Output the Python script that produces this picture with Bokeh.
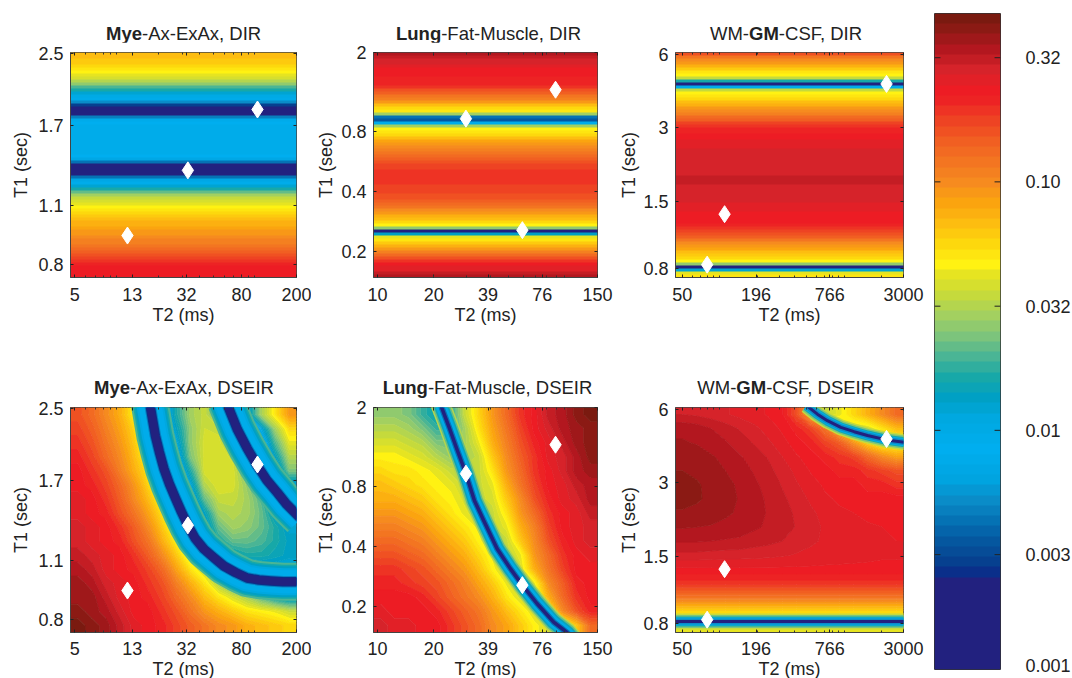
import numpy as np
from bokeh.plotting import figure
from bokeh.layouts import row, column
from bokeh.models import FixedTicker, Range1d, LinearAxis, LinearColorMapper, Div
from bokeh.embed import file_html
from bokeh.resources import INLINE

FONT = "Liberation Sans"
TXT = "#222222"

# colour bar: 64 bands, anchors (band, colour)
band_anchors = [(0,"#22217f"),(8,"#22217f"),(9,"#0a2f8a"),(10,"#06408f"),(12,"#05579f"),(14,"#0572b4"),
 (16,"#0a8cc8"),(18,"#00a4e0"),(21,"#00aeef"),(24,"#00a8e0"),(26,"#00a0c4"),(28,"#17a8a8"),(30,"#4ab595"),
 (32,"#7cc47c"),(34,"#a3d060"),(36,"#c5da3c"),(38,"#e6e421"),(39,"#fff212"),(41,"#fdd80d"),(43,"#fdbd10"),
 (45,"#fba40f"),(47,"#f68b1f"),(49,"#f37521"),(51,"#f15f22"),(53,"#ee4323"),(55,"#ed2324"),(56,"#ed1c24"),
 (58,"#d6232a"),(60,"#b3171f"),(62,"#8b1a14"),(63,"#7a1a10")]
bar_ticks = [0.316, 0.1, 0.0316, 0.01, 0.00316]
bar_label_pos = [0.316, 0.1, 0.0316, 0.01, 0.00316, 0.00113]
bar_labels = ["0.32", "0.10", "0.032", "0.01", "0.003", "0.001"]
bar_range = (0.00109, 0.476)
bar_levels = list(range(64))

# axes
mye_x = (4.65, 200); mye_y = (0.744, 2.52)
lung_x = (9.52, 150); lung_y = (0.148, 2.0)
wm_x = (44.2, 3000); wm_y = (0.733, 6.09)
mye_xt = [5, 13, 32, 80, 200]; mye_yt = [0.8, 1.1, 1.7, 2.5]
lung_xt = [10, 20, 39, 76, 150]; lung_yt = [0.2, 0.4, 0.8, 2]
wm_xt = [50, 196, 766, 3000]; wm_yt = [0.8, 1.5, 3, 6]
mye_minor = [6,7,8,9,10,20,30,40,50,60,70,80,90,100]
lung_minor = [20,30,40,50,60,70,80,90,100]
wm_minor = [60,70,80,90,100,200,300,400,500,600,700,800,900,1000,2000]

# tissue points (T2 ms, T1 s)
mye_pts_t2 = [104.5, 32.8, 12.0]; mye_pts_t1 = [1.85, 1.33, 0.934]
lung_pts_t2 = [29.7, 59.5, 89.5]; lung_pts_t1 = [0.93, 0.256, 1.30]
wm_pts_t2 = [2192, 109.6, 79.4]; wm_pts_t1 = [4.53, 1.33, 0.827]

# DIR: colour band per T1 row, top to bottom
mye_dir = [43,43,42,42,41,40,39,38,37,35,33,30,28,25,23,20,16,10,3,2,6,15,20,21,22,22,22,22,22,22,22,22,22,22,21,19,14,6,2,2,6,14,19,22,25,28,31,34,36,37,38,39,40,41,42,43,44,44,45,46,46,47,48,48,49,50,51,52,53,54,55,56,56,56,56]
lung_dir = [60,59,58,58,57,56,56,56,55,55,55,54,52,51,49,48,46,43,41,40,34,14,12,22,34,39,40,41,43,45,46,47,48,49,50,51,52,53,53,54,54,54,54,54,53,53,53,52,52,51,50,49,47,46,44,43,41,39,33,8,26,38,40,42,44,46,48,50,52,54,56,57,57,59,60]
wm_dir = [52,49,47,46,44,42,40,39,36,28,8,20,36,39,40,41,43,44,46,47,48,50,51,53,54,55,55,56,56,57,57,57,58,58,58,58,58,58,58,58,58,59,59,59,58,58,58,58,58,58,57,57,57,56,56,56,56,55,54,53,52,51,49,47,46,45,43,42,41,39,33,5,25,38,40]

# DSEIR: colour band on a coarse grid, top row first
mye_dseir = [
 [52,50,47,44,39,26,20,28,34,36,30,20,24,34,40,46],
 [53,51,48,45,41,32,20,26,33,36.5,36,26,18,24,34,41],
 [54,52,49,46,42,36,22,24,33,37,37,32,18,20,30,38],
 [55,53,50,47,43,38,26,22,32,37,37.5,36,24,18,26,35],
 [56,54,52,48,44,40,32,20,28,37,37.5,37,30,18,22,32],
 [56,55,53,50,46,41,36,22,24,35,37.5,37,33,24,18,24],
 [57,56,54,51,47,43,38,28,22,31,36,36,34,30,22,16],
 [57,56,55,52,49,45,40,34,22,26,34,35,34,31,25,18],
 [58,57,56,54,51,47,42,36,26,24,31,34,33,31,28,25],
 [58,57,56,55,52,49,44,39,30,24,28,31,31,30,28,26],
 [59,58,57,56,54,51,47,42,36,28,24,26,28,28,27,26],
 [60,59,57,56,55,53,50,45,40,36,28,22,23,24,24,24],
 [61,60,58,57,56,54,52,48,44,40,34,28,22,16,14,14],
 [61,61,59,57,56,55,53,50,47,43,40,37,34,30,26,24],
 [62,61,60,58,56,56,54,52,49,46,44,42,40,39,38,36],
 [63,62,61,59,57,56,55,53,51,49,47,46,44,43,42,41]]
lung_dseir = [
 [33,33,32,29,27,28,36,41,46,50,54,56,59,60,62,63],
 [35,35,34,32,29,29,34,40,45,49,53,56,58,60,61,62],
 [37,37,36,35,32,32,34,38,44,48,52,55,57,59,61,62],
 [39,39,38,37,35,33,34,36,42,47,51,54,57,58,60,62],
 [41,40,40,39,38,36,36,36,40,46,50,54,56,58,60,61],
 [43,42,41,40,39,38,36,36,38,44,49,53,56,57,59,60],
 [44,44,43,42,40,39,37,36,37,42,47,52,55,57,58,60],
 [46,46,45,44,42,40,38,36,36,40,46,50,54,56,57,59],
 [48,48,47,46,44,42,40,38,36,38,44,48,53,56,57,58],
 [50,50,49,48,46,44,42,39,36,36,42,47,52,55,57,58],
 [52,52,51,50,48,46,44,41,38,36,38,46,50,54,56,57],
 [54,54,53,52,50,48,46,43,39,36,37,44,49,53,56,56],
 [55,55,54,53,52,50,48,45,42,38,36,38,47,51,55,56],
 [56,56,56,55,53,51,49,47,44,40,37,36,44,50,54,56],
 [57,56,56,56,55,53,51,49,46,43,40,37,37,47,52,55],
 [58,57,57,56,56,54,52,50,47,45,42,39,37,36,42,50]]
wm_dseir = [
 [58.5,58.3,58,57.6,57.2,56.8,56.4,55.6,52,44,36,38,41,44,47,50],
 [60.2,60,59.5,59,58.4,57.8,57,56.3,55,53,49,42,37,37,40,43],
 [60.6,60.4,60,59.6,59,58.4,57.7,56.8,56,55,53,51,46,41,38,38],
 [61.1,61,60.6,60.2,59.6,59,58.4,57.5,56.6,56,55,54,53,50,47,45],
 [61.5,61.3,61,60.5,60,59.4,58.8,58,57.2,56.4,56,55,55,54,53,52],
 [61.8,61.6,61.2,60.8,60.3,59.7,59.1,58.4,57.6,56.9,56.3,56,56,55,55,54],
 [61.8,61.6,61.3,60.9,60.4,59.9,59.3,58.7,58,57.3,56.7,56.3,56,56,56,56],
 [61.4,61.3,61.1,60.7,60.3,59.9,59.4,58.9,58.3,57.7,57.1,56.7,56.5,56.3,56.2,56.1],
 [60.6,60.5,60.4,60.2,60,59.7,59.3,59,58.4,57.9,57.3,57,56.8,56.6,56.5,56.4],
 [59.6,59.6,59.5,59.4,59.3,59,58.8,58.5,58.1,57.7,57.3,57,56.8,56.7,56.6,56.5],
 [58.2,58.2,58.1,58,58,57.9,57.8,57.6,57.4,57.2,57,56.9,56.8,56.7,56.6,56.6],
 [56.3,56.3,56.3,56.3,56.3,56.3,56.3,56.3,56.3,56.3,56.3,56.3,56.3,56.3,56.3,56.3],
 [54,54,54,54,54,54,54,54,54,54,54,54,54,54,54,54],
 [49,49,49,49,49,49,49,49,49,49,49,49,49,49,49,49],
 [41,41,41,41,41,41,41,41,41,41,41,41,41,41,41,41],
 [38,38,38,38,38,38,38,38,38,38,38,38,38,38,38,38]]

# null curves of the DSEIR panels
mye_c1_t2 = [17.3,19.1,20.4,22.0,24.2,26.7,29.5,32.8,37,42.8,50.5,59.7,72.5,88,107,130,160,210]
mye_c1_t1 = [2.6,2.16,1.98,1.81,1.66,1.54,1.43,1.33,1.24,1.17,1.117,1.067,1.03,1.0,0.989,0.984,0.98,0.98]
mye_c2_t2 = [62,74.6,88,104,122,145,170,215]
mye_c2_t1 = [2.6,2.24,2.02,1.84,1.70,1.59,1.49,1.38]
lung_c_t2 = [21.6,24.1,26.7,29.7,33,37,43.6,51.3,59.5,71.2,87.4,103,110]
lung_c_t1 = [2.1,1.60,1.22,0.93,0.68,0.54,0.39,0.31,0.256,0.207,0.167,0.148,0.138]
wm_c1_t2 = [40,3300]
wm_c1_t1 = [0.812,0.812]
wm_c2_t2 = [500,610,734,941,1204,1541,2192,3300]
wm_c2_t1 = [6.2,5.72,5.38,5.05,4.85,4.68,4.49,4.37]

# (width px, colour band) drawn from wide to narrow
mye_stack = [(38,30),(34,28),(31,26),(27,24),(23,22),(11.5,15),(9.5,9),(7.5,3)]
lung_stack = [(20,35),(17,31),(14,27),(11,23),(8,20),(6,14),(3.5,4)]
wm_stack = [(16,36),(13,32),(10,28),(8,22),(6,16),(3,4)]

# title pieces: (text, bold)
title_a = [("Mye",1),("-Ax-ExAx, DIR",0)]
title_b = [("Lung",1),("-Fat-Muscle, DIR",0)]
title_c = [("WM-",0),("GM",1),("-CSF, DIR",0)]
title_d = [("Mye",1),("-Ax-ExAx, DSEIR",0)]
title_e = [("Lung",1),("-Fat-Muscle, DSEIR",0)]
title_f = [("WM-",0),("GM",1),("-CSF, DSEIR",0)]

palette = []
_lv = [a[0] for a in band_anchors]
_rgb = np.array([[int(a[1][i:i+2],16) for i in (1,3,5)] for a in band_anchors], float)
for l in range(64):
    palette.append("#%02x%02x%02x" % tuple(int(round(np.interp(l,_lv,_rgb[:,k]))) for k in range(3)))
mapper = LinearColorMapper(palette=palette, low=-0.5, high=63.5)
contour_levels = [l - 0.5 for l in range(65)]

def nodes(lo, hi, n):
    return [lo] + [lo*(hi/lo)**((i+0.5)/n) for i in range(n)] + [hi]

def panel(xr, yr, xt, yt, xminor, grid, pts, curves, stack, fw, fh, ml, mr, mt, mb, xs, yls):
    p = figure(frame_width=fw, frame_height=fh, x_axis_type="log", y_axis_type="log",
               x_range=Range1d(*xr), y_range=Range1d(*yr), toolbar_location=None, output_backend="svg",
               min_border_left=ml, min_border_right=mr, min_border_top=mt, min_border_bottom=mb)
    p.grid.visible = False
    arr = np.array(grid, dtype=float)
    if arr.ndim == 1:
        p.image(image=[arr.reshape(-1, 1)[::-1]], x=xr[0], y=yr[0], dw=xr[1]-xr[0], dh=yr[1]-yr[0], color_mapper=mapper)
    else:
        z = np.pad(arr[::-1], 1, mode="edge")
        p.contour(nodes(*xr, arr.shape[1]), nodes(*yr, arr.shape[0]), z, contour_levels, fill_color=palette,
                  line_color=palette + palette[-1:], line_width=1)
    for cx, cy in curves:
        for w, lv in stack:
            p.line(cx, cy, line_width=w, line_color=palette[lv], line_join="round")
    p.scatter(pts[0], pts[1], marker="diamond", size=17, fill_color="white", line_color="white")
    for ax, ticks, lab, mn in ((p.xaxis[0], xt, "T2 (ms)", xminor), (p.yaxis[0], yt, "T1 (sec)", [])):
        ax.ticker = FixedTicker(ticks=ticks, minor_ticks=mn)
        ax.major_label_overrides = {t: str(t) for t in ticks}
        ax.axis_label = lab
        ax.axis_label_text_font = FONT
        ax.axis_label_text_font_size = "18px"
        ax.axis_label_text_font_style = "normal"
        ax.axis_label_text_color = TXT
        ax.major_label_text_font = FONT
        ax.major_label_text_font_size = "18px"
        ax.major_label_text_color = TXT
        ax.major_tick_in = 3
        ax.major_tick_out = 0
        ax.minor_tick_in = 2
        ax.minor_tick_out = 0
        ax.axis_line_color = "#444444"
        ax.major_tick_line_color = "#222222"
        ax.minor_tick_line_color = "#333333"
    p.xaxis[0].major_label_standoff = xs[0]
    p.xaxis[0].axis_label_standoff = xs[1]
    p.yaxis[0].major_label_standoff = 7
    p.yaxis[0].axis_label_standoff = yls
    for place, ticks, mn in (("above", xt, xminor), ("right", yt, [])):
        m = LinearAxis(ticker=FixedTicker(ticks=ticks, minor_ticks=mn), major_label_overrides={t: "" for t in ticks},
                       axis_line_color=None, major_tick_in=3, major_tick_out=0, minor_tick_in=2,
                       minor_tick_out=0, major_label_standoff=0, major_tick_line_color="#222222",
                       minor_tick_line_color="#333333")
        p.add_layout(m, place)
    p.outline_line_color = "#444444"
    p.outline_line_alpha = 1
    return p

def head(parts, w, h, left, top):
    body = "".join(("<b>%s</b>" % t) if bold else t for t, bold in parts)
    return Div(text='<div style="padding:%dpx 0 0 %.1fpx;line-height:16px;font-family:\'%s\';font-size:18.5px;color:%s;white-space:nowrap">%s</div>'
               % (top, left, FONT, TXT, body), width=w, height=h, margin=0)

T, B = (10, 1), (9, 1)
a = panel(mye_x, mye_y, mye_xt, mye_yt, mye_minor, mye_dir, (mye_pts_t2, mye_pts_t1), [], [], 226, 225, 70, 15, 10, 85, T, 4)
b = panel(lung_x, lung_y, lung_xt, lung_yt, lung_minor, lung_dir, (lung_pts_t2, lung_pts_t1), [], [], 224, 225, 62, 16, 10, 85, T, 2)
c = panel(wm_x, wm_y, wm_xt, wm_yt, wm_minor, wm_dir, (wm_pts_t2, wm_pts_t1), [], [], 228, 225, 62, 22, 10, 85, T, 1)
d = panel(mye_x, mye_y, mye_xt, mye_yt, mye_minor, mye_dseir, (mye_pts_t2, mye_pts_t1),
          [(mye_c1_t2, mye_c1_t1), (mye_c2_t2, mye_c2_t1)], mye_stack, 226, 225, 70, 15, 9, 46, B, 4)
e = panel(lung_x, lung_y, lung_xt, lung_yt, lung_minor, lung_dseir, (lung_pts_t2, lung_pts_t1),
          [(lung_c_t2, lung_c_t1)], lung_stack, 224, 225, 62, 16, 9, 46, B, 2)
f = panel(wm_x, wm_y, wm_xt, wm_yt, wm_minor, wm_dseir, (wm_pts_t2, wm_pts_t1),
          [(wm_c1_t2, wm_c1_t1), (wm_c2_t2, wm_c2_t1)], wm_stack, 228, 225, 62, 22, 9, 46, B, 1)

top_row = row(column(head(title_a, 311, 42, 106, 26), a, spacing=0),
              column(head(title_b, 302, 42, 85, 26), b, spacing=0),
              column(head(title_c, 312, 42, 97, 26), c, spacing=0), spacing=0)
bot_row = row(column(head(title_d, 311, 36, 94, 18), d, spacing=0),
              column(head(title_e, 302, 36, 71.7, 18), e, spacing=0),
              column(head(title_f, 312, 36, 84.3, 18), f, spacing=0), spacing=0)

bar = figure(frame_width=66, frame_height=656, y_axis_type="log", x_range=Range1d(0,1), y_range=Range1d(*bar_range),
             toolbar_location=None, output_backend="svg", min_border_left=9, min_border_right=72,
             min_border_top=13, min_border_bottom=9)
bar.grid.visible = False
bar.xaxis.visible = False
bar.yaxis.visible = False
bar.image(image=[np.array(bar_levels, dtype=float).reshape(-1,1)], x=0, y=bar_range[0], dw=1,
          dh=bar_range[1]-bar_range[0], color_mapper=mapper)
bar.segment([0]*5, bar_ticks, [0.09]*5, bar_ticks, line_color="#222222", line_width=1)
bar.segment([1]*5, bar_ticks, [0.91]*5, bar_ticks, line_color="#222222", line_width=1)
bar.outline_line_color = "#333333"
ax = LinearAxis(ticker=FixedTicker(ticks=bar_label_pos), axis_line_color=None, major_tick_in=0, major_tick_out=0,
                minor_tick_in=0, minor_tick_out=0, major_label_overrides=dict(zip(bar_label_pos, bar_labels)),
                major_label_standoff=25, major_label_text_font=FONT, major_label_text_font_size="18px",
                major_label_text_color=TXT)
bar.add_layout(ax, "right")

page = row(column(top_row, bot_row, spacing=0), bar, spacing=0)
open("out.html", "w").write(file_html(page, INLINE))
